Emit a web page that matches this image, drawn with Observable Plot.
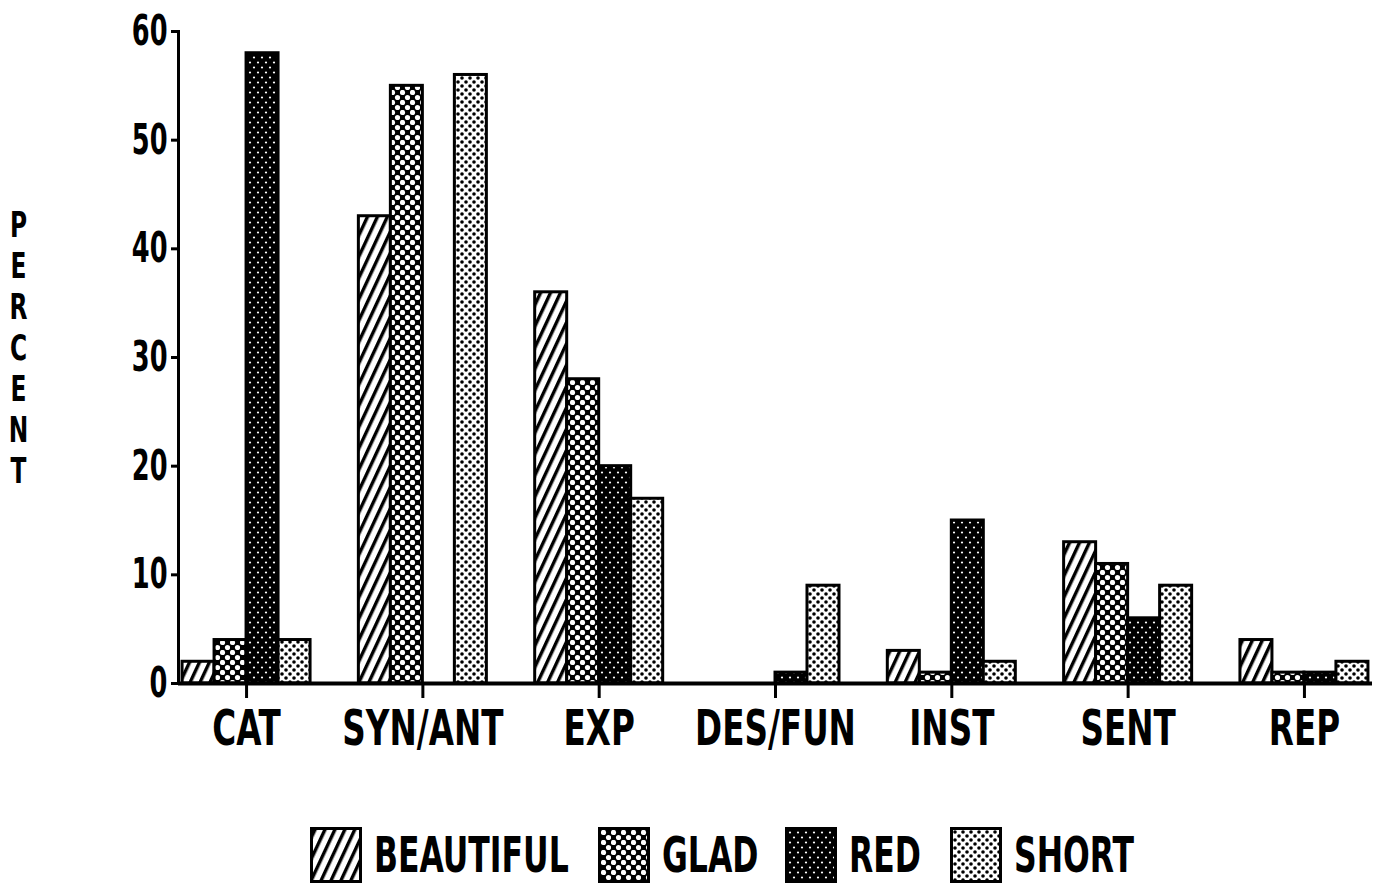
<!DOCTYPE html>
<html>
<head>
<meta charset="utf-8">
<script src="https://cdn.jsdelivr.net/npm/d3@7"></script>
<script src="https://cdn.jsdelivr.net/npm/@observablehq/plot@0.6"></script>
<style>
  html, body { margin: 0; padding: 0; background: #fff; }
  body { width: 1378px; height: 886px; position: relative; overflow: hidden;
         font-family: "Liberation Sans Narrow", "DejaVu Sans Condensed", sans-serif; }
  #chart { position: absolute; left: 0; top: 0; }
  .legend-item { position: absolute; top: 826px; height: 58px; display: flex; align-items: center; }
  .swatch { width: 52px; height: 56px; border: 3px solid #000; box-sizing: border-box; display: block; flex: none; }
  .legend-label { font-weight: bold; font-size: 50px; color: #000; margin-left: 12px; white-space: nowrap;
                  display: inline-block; transform: scaleX(0.70); transform-origin: left center; line-height: 1; }
</style>
</head>
<body>
<svg width="0" height="0" style="position:absolute">
  <defs>
    <pattern id="pat-BEAUTIFUL" patternUnits="userSpaceOnUse" width="9" height="9" patternTransform="rotate(25)">
      <rect width="9" height="9" fill="#fff"/>
      <rect x="0" y="0" width="3.4" height="9" fill="#000"/>
    </pattern>
    <pattern id="pat-GLAD" patternUnits="userSpaceOnUse" width="10" height="10">
      <rect width="10" height="10" fill="#000"/>
      <circle cx="2.5" cy="2.5" r="2.6" fill="#fff"/>
      <circle cx="7.5" cy="7.5" r="2.6" fill="#fff"/>
    </pattern>
    <pattern id="pat-RED" patternUnits="userSpaceOnUse" width="8" height="10">
      <rect width="8" height="10" fill="#000"/>
      <circle cx="2" cy="2.5" r="1.1" fill="#fff"/>
      <circle cx="6" cy="7.5" r="1.1" fill="#fff"/>
    </pattern>
    <pattern id="pat-SHORT" patternUnits="userSpaceOnUse" width="8" height="8">
      <rect width="8" height="8" fill="#fff"/>
      <circle cx="2" cy="2" r="1.8" fill="#000"/>
      <circle cx="6" cy="6" r="1.8" fill="#000"/>
    </pattern>
  </defs>
</svg>
<div id="chart"></div>
<div id="legend"></div>
<script>
const categories = ["CAT", "SYN/ANT", "EXP", "DES/FUN", "INST", "SENT", "REP"];
const series = ["BEAUTIFUL", "GLAD", "RED", "SHORT"];
const beautiful = [2, 43, 36, 0, 3, 13, 4];
const glad = [4, 55, 28, 0, 1, 11, 1];
const red = [58, 0, 20, 1, 15, 6, 1];
const short = [4, 56, 17, 9, 2, 9, 2];
const yTicks = [0, 10, 20, 30, 40, 50, 60];
const yLabel = "PERCENT";

const values = {BEAUTIFUL: beautiful, GLAD: glad, RED: red, SHORT: short};
const rows = categories.map((c, i) => {
  const r = {cat: c};
  for (const s of series) r[s] = values[s][i];
  return r;
});

const barW = 32;
const font = '"Liberation Sans Narrow", "DejaVu Sans Condensed", sans-serif';

const chart = Plot.plot({
  width: 1378,
  height: 800,
  marginLeft: 178,
  marginRight: 6,
  marginTop: 31,
  marginBottom: 117,
  style: {fontFamily: font, color: "#000", background: "#fff"},
  x: {domain: categories, paddingInner: 0.274, paddingOuter: 0.023, round: false, label: null},
  y: {domain: [0, 60], label: null},
  marks: [
    ...series.map((s, j) => Plot.barY(rows, {
      x: "cat", y: s,
      fill: `url(#pat-${s})`, stroke: "#000", strokeWidth: 3,
      insetLeft: j * barW, insetRight: (series.length - 1 - j) * barW
    })),
    Plot.ruleY([0], {stroke: "#000", strokeWidth: 4}),
    Plot.frame({anchor: "left", stroke: "#000", strokeWidth: 3}),
    Plot.axisY({ticks: yTicks, tickSize: 7, tickPadding: 4, strokeWidth: 3, fontSize: 42, fontWeight: "bold", label: null, ariaLabel: "y-axis"}),
    Plot.axisX({tickSize: 15, tickPadding: 12, strokeWidth: 3, fontSize: 49, fontWeight: "bold", label: null}),
    Plot.text([yLabel.split("").join("\n")], {
      text: d => d, frameAnchor: "left", dx: -160, dy: -11,
      fontSize: 36, lineHeight: 1.14, fontWeight: "bold", textAnchor: "middle"
    })
  ]
});

// condense glyphs horizontally around each text's anchor point (blocky narrow plotter lettering)
d3.select(chart).selectAll("text").each(function () {
  const t = this.getAttribute("transform") || "";
  const fs = parseFloat(this.getAttribute("font-size") || this.parentNode.getAttribute("font-size") || 0);
  const k = fs >= 45 ? 0.74 : fs >= 40 ? 0.68 : 0.72;
  this.setAttribute("transform", (t + ` scale(${k},1)`).trim());
});
document.getElementById("chart").appendChild(chart);

const legendX = [310, 598, 785, 950];
const legend = document.getElementById("legend");
series.forEach((s, j) => {
  const item = document.createElement("div");
  item.className = "legend-item";
  item.style.left = legendX[j] + "px";
  item.innerHTML = `<svg class="swatch" viewBox="0 0 46 50" width="52" height="56"><rect x="0" y="0" width="46" height="50" fill="url(#pat-${s})"/></svg><span class="legend-label">${s}</span>`;
  legend.appendChild(item);
});
</script>
</body>
</html>
